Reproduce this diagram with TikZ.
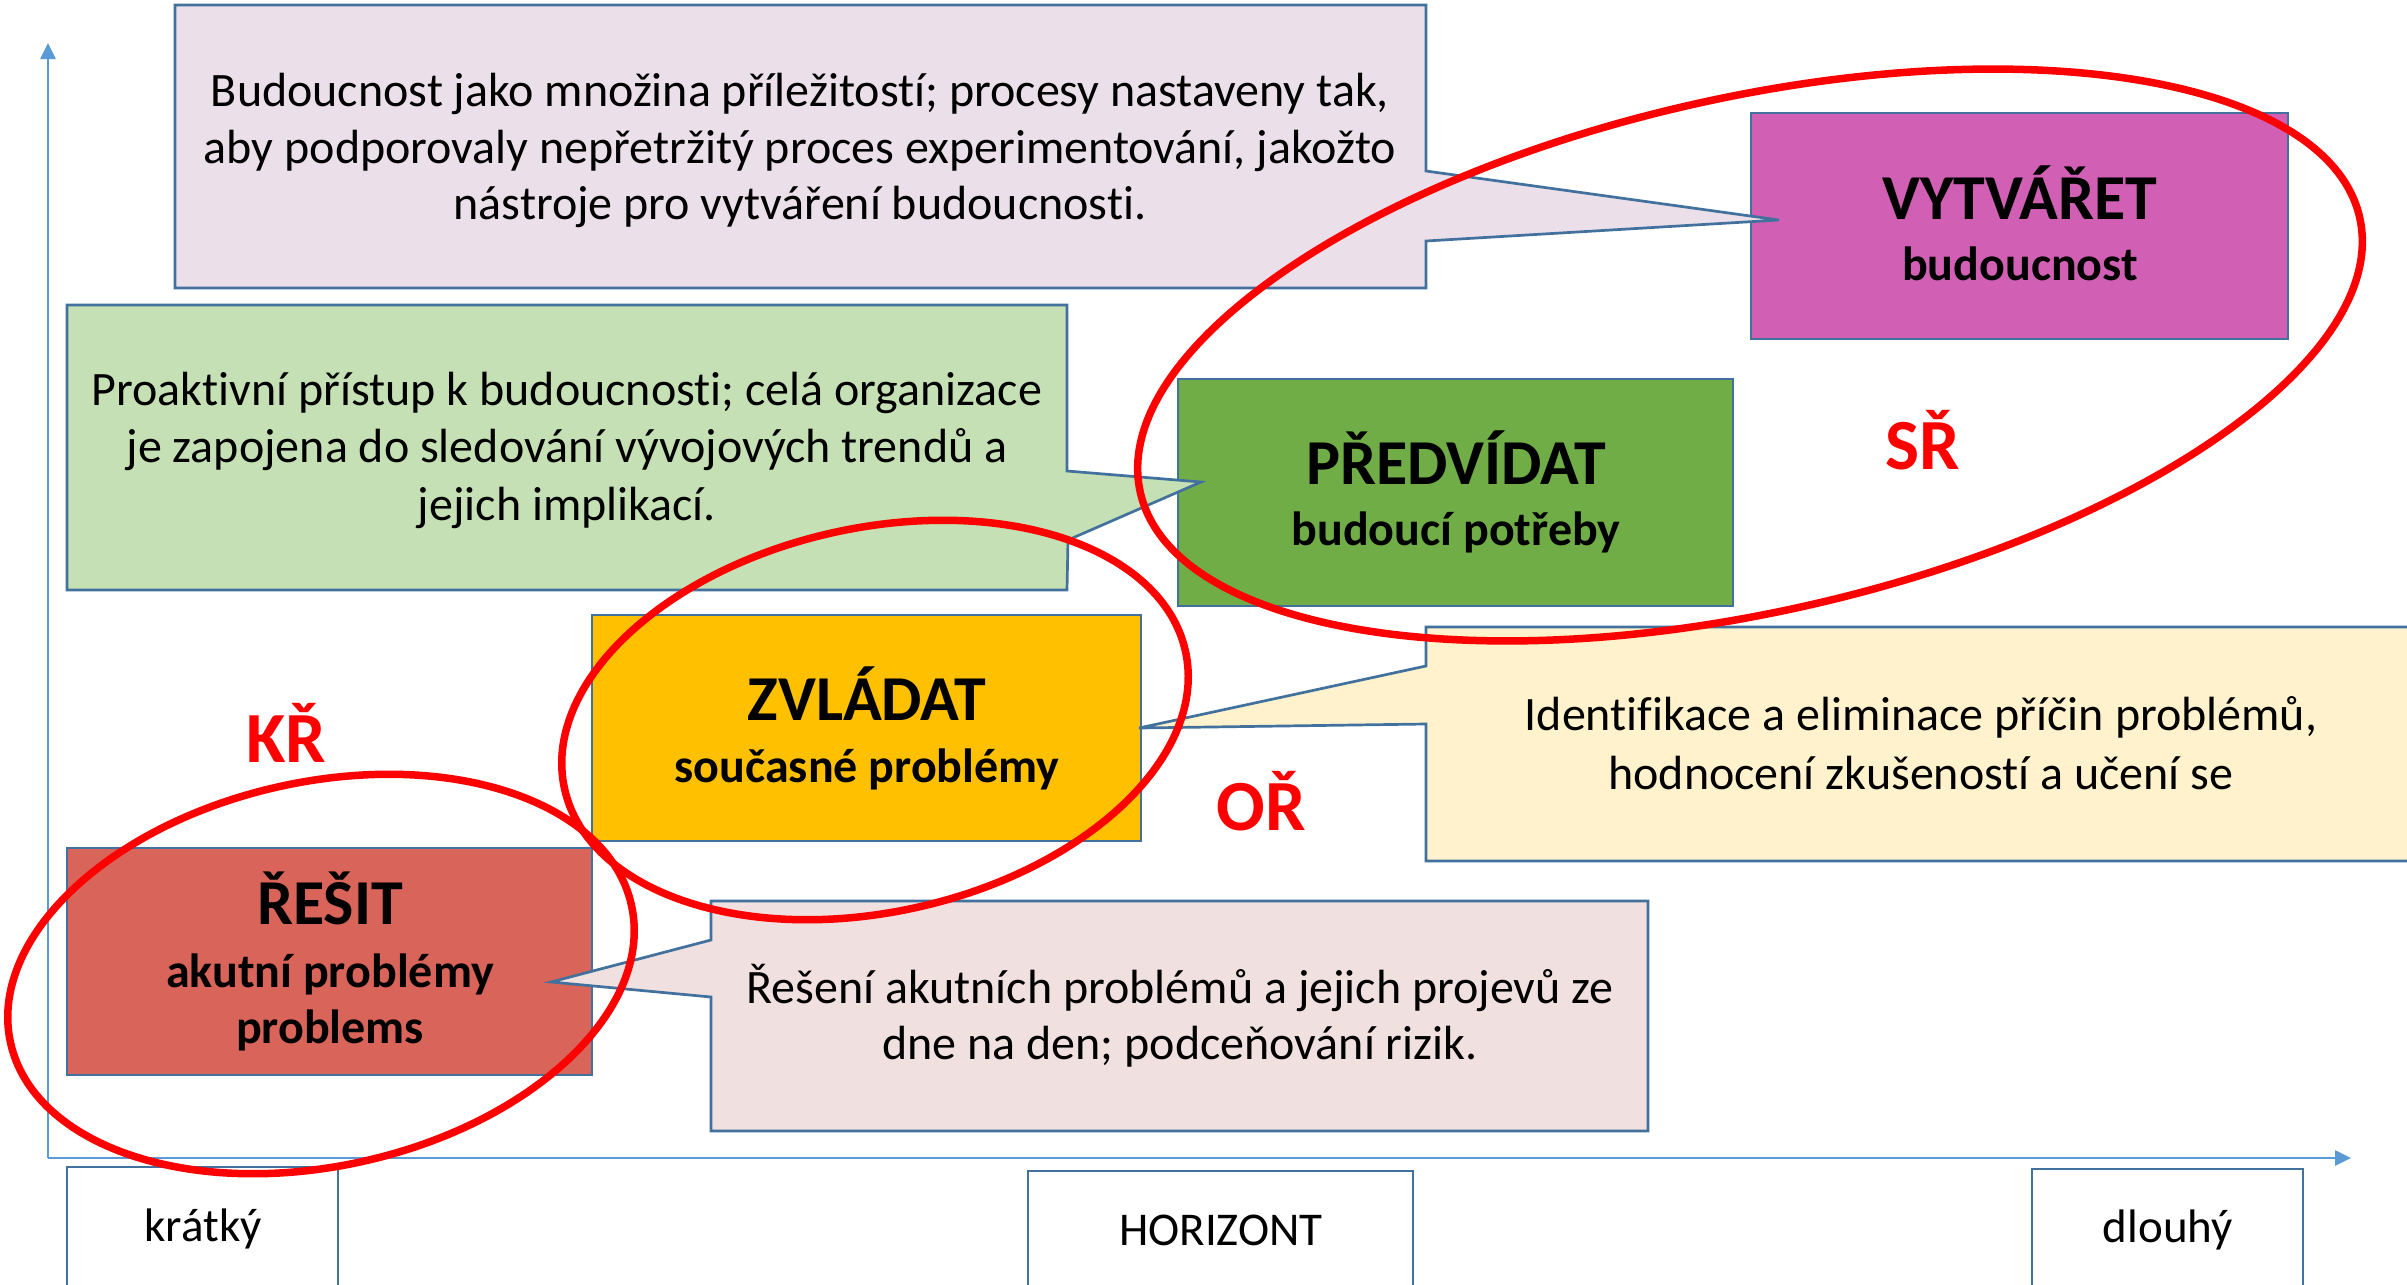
\documentclass[tikz,border=0pt]{standalone}
\usepackage{fontspec}
\setmainfont{Carlito}[Ligatures=NoCommon]
\usetikzlibrary{arrows.meta}
\definecolor{edge}{HTML}{41719C}
\definecolor{axisblue}{HTML}{5B9BD5}
\definecolor{ringred}{HTML}{FF0000}
\definecolor{vytfill}{HTML}{D160B4}
\definecolor{predfill}{HTML}{70AD47}
\definecolor{zvlfill}{HTML}{FFC000}
\definecolor{resfill}{HTML}{D9645A}
\definecolor{cpurple}{HTML}{EBDFEA}
\definecolor{cgreen}{HTML}{C5E0B4}
\definecolor{cyellow}{HTML}{FFF2CC}
\definecolor{cpink}{HTML}{F0E0DF}
\begin{document}
\begin{tikzpicture}[x=1pt,y=-1pt,
  box/.style={draw=edge, line width=2.7pt, inner sep=0pt, outer sep=0pt},
  callout/.style={draw=edge, line width=2.7pt},
  body/.style={anchor=base, inner sep=0pt, font=\fontsize{48}{57}\selectfont},
  label/.style={anchor=base, inner sep=0pt, font=\fontsize{47}{57}\selectfont},
  title/.style={anchor=base, inner sep=0pt, font=\bfseries\fontsize{64}{75}\selectfont},
  sub/.style={anchor=base, inner sep=0pt, font=\bfseries\fontsize{48}{57}\selectfont},
  zone/.style={anchor=base, inner sep=0pt, text=ringred, font=\bfseries\fontsize{72}{86}\selectfont},
  ring/.style={draw=ringred, line width=7.5pt},
  axis/.style={draw=axisblue, line width=2.6pt, -{Triangle[length=16pt,width=15pt]}},
]
\useasboundingbox[fill=white] (0,0) rectangle (2407,1285);

% axes
\coordinate (O) at (48,1158);
\coordinate (xend) at (2351,1158);
\coordinate (yend) at (48,43);
\draw[axis] (O) -- (xend);
\draw[axis] (O) -- (yend);

% level boxes
\node[box, fill=vytfill, minimum width=537pt, minimum height=226pt] (vyt) at (2019.5,226) {};
\node[box, fill=predfill, minimum width=555pt, minimum height=227pt] (pred) at (1455.5,492.5) {};
\node[box, fill=zvlfill, minimum width=549pt, minimum height=226pt] (zvl) at (866.5,728) {};
\node[box, fill=resfill, minimum width=525pt, minimum height=227pt] (res) at (329.5,961.5) {};

% callouts
\path[callout, fill=cpurple] (175,5) -- (1426,5) -- (1426,171) -- (1779,220) -- (1426,241) -- (1426,288) -- (175,288) -- cycle;
\path[callout, fill=cgreen] (67,305) -- (1067,305) -- (1067,471) -- (1201,482) -- (1068,540) -- (1067,590) -- (67,590) -- cycle;
\path[callout, fill=cyellow] (1426,627) -- (2425,627) -- (2425,861) -- (1426,861) -- (1426,724) -- (1139,728) -- (1426,666) -- cycle;
\path[callout, fill=cpink] (711,901) -- (1648,901) -- (1648,1131) -- (711,1131) -- (711,997) -- (551,982) -- (711,940) -- cycle;

% horizon labels
\node[box, fill=white, minimum width=271pt, minimum height=130pt] (kbox) at (202.5,1232) {};
\node[box, fill=white, minimum width=385pt, minimum height=126pt] (hbox) at (1220.5,1234) {};
\node[box, fill=white, minimum width=271pt, minimum height=128pt] (dbox) at (2167.5,1233) {};
\node[label] (ktext) at (203,1241) {krátký};
\node[label] (htext) at (1221,1245) {HORIZONT};
\node[label] (dtext) at (2168,1242) {dlouhý};

% callout texts
\node[body] (p1) at (800,106) {Budoucnost jako množina příležitostí; procesy nastaveny tak,};
\node[body] (p2) at (800,163) {aby podporovaly nepřetržitý proces experimentování, jakožto};
\node[body] (p3) at (800,219) {nástroje pro vytváření budoucnosti.};
\node[body] (g1) at (567,405) {Proaktivní přístup k budoucnosti; celá organizace};
\node[body] (g2) at (567,462) {je zapojena do sledování vývojových trendů a};
\node[body] (g3) at (567,520) {jejich implikací.};
\node[body] (y1) at (1921,730) {Identifikace a eliminace příčin problémů,};
\node[body] (y2) at (1921,789) {hodnocení zkušeností a učení se};
\node[body] (r1) at (1180,1003) {Řešení akutních problémů a jejich projevů ze};
\node[body] (r2) at (1180,1059) {dne na den; podceňování rizik.};

% box texts
\node[title] (vytt) at (2020,219) {VYTVÁŘET};
\node[sub] (vyts) at (2020,280) {budoucnost};
\node[title] (predt) at (1456,484) {PŘEDVÍDAT};
\node[sub] (preds) at (1456,545) {budoucí potřeby};
\node[title] (zvlt) at (867,720) {ZVLÁDAT};
\node[sub] (zvls) at (867,782) {současné problémy};
\node[title] (rest) at (330,924) {ŘEŠIT};
\node[sub] (ress1) at (330,987) {akutní problémy};
\node[sub] (ress2) at (330,1043) {problems};

% red rings
\draw[ring, rotate around={12.7:(1750,355)}] (1750,355) ellipse [x radius=625pt, y radius=257pt];
\draw[ring, rotate around={12.5:(875,720)}] (875,720) ellipse [x radius=318pt, y radius=192pt];
\draw[ring, rotate around={12.5:(321,974)}] (321,974) ellipse [x radius=318pt, y radius=192pt];

\node[zone] (sr) at (1923,469) {SŘ};
\node[zone] (kr) at (286,762) {KŘ};
\node[zone] (or) at (1261,830) {OŘ};
\end{tikzpicture}
\end{document}
